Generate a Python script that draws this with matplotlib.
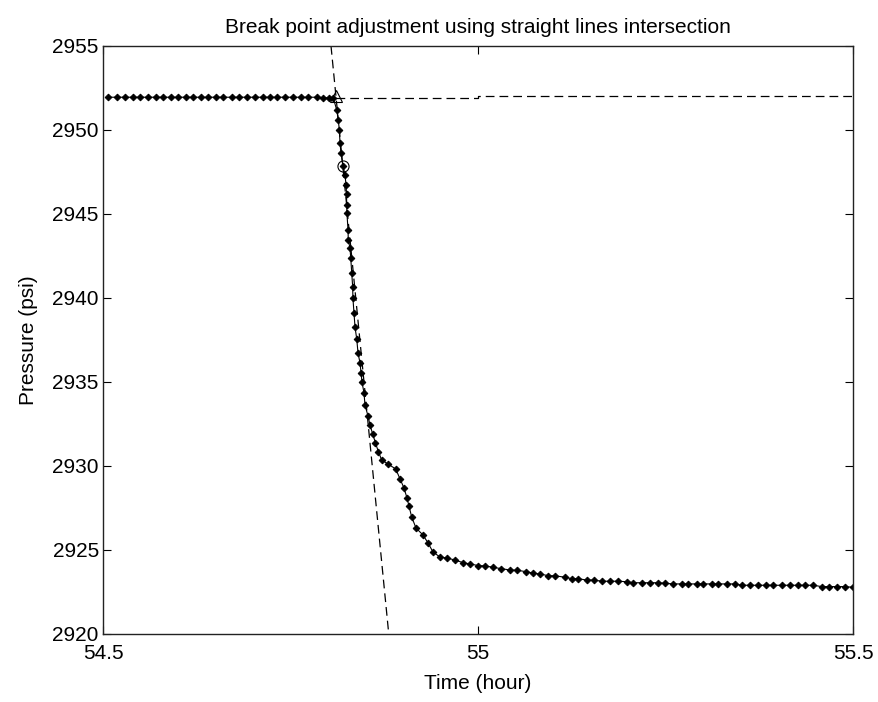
import matplotlib
matplotlib.use('Agg')
import matplotlib.pyplot as plt

# pressure record (time in hours, pressure in psi)
time_h = [
    54.5071, 54.5183, 54.5293, 54.5396, 54.5493, 54.5604, 54.5707, 54.5804,
    54.5903, 54.6004, 54.6107, 54.6204, 54.6303, 54.6404, 54.6507, 54.6604,
    54.6716, 54.6817, 54.6916, 54.7027, 54.7129, 54.7227, 54.7324, 54.7427,
    54.7537, 54.7636, 54.7737, 54.7849, 54.7937, 54.8017, 54.8071,
    54.8116, 54.8137, 54.8151, 54.8160, 54.8173, 54.8200, 54.8227, 54.8240,
    54.8247, 54.8249, 54.8252, 54.8267, 54.8270, 54.8293, 54.8303, 54.8316,
    54.8329, 54.8332, 54.8347, 54.8360, 54.8383, 54.8400, 54.8427, 54.8440,
    54.8453, 54.8480, 54.8493, 54.8533, 54.8560, 54.8596, 54.8633, 54.8673,
    54.8716, 54.8800, 54.8903, 54.8960, 54.9013, 54.9053, 54.9080, 54.9116,
    54.9173, 54.9267, 54.9333, 54.9400, 54.9493, 54.9587, 54.9693,
    54.9804, 54.9893, 55.0004, 55.0093, 55.0204, 55.0303, 55.0427, 55.0524,
    55.0640, 55.0729, 55.0827, 55.0937, 55.1027, 55.1160, 55.1249, 55.1337,
    55.1449, 55.1547, 55.1649, 55.1760, 55.1871, 55.1983, 55.2071, 55.2183,
    55.2293, 55.2404, 55.2493, 55.2604, 55.2716, 55.2804, 55.2916, 55.3004,
    55.3116, 55.3204, 55.3316, 55.3427, 55.3516, 55.3627, 55.3737, 55.3840,
    55.3937, 55.4049, 55.4160, 55.4271, 55.4360, 55.4471, 55.4583, 55.4684,
    55.4783, 55.4893, 55.5000,
]
pressure_psi = [
    2951.95, 2951.95, 2951.95, 2951.95, 2951.95, 2951.95, 2951.95, 2951.95,
    2951.95, 2951.95, 2951.95, 2951.95, 2951.95, 2951.95, 2951.95, 2951.95,
    2951.95, 2951.95, 2951.95, 2951.95, 2951.95, 2951.95, 2951.95, 2951.95,
    2951.95, 2951.95, 2951.95, 2951.95, 2951.93, 2951.90, 2951.90,
    2951.19, 2950.60, 2950.00, 2949.23, 2948.63, 2947.86, 2947.32, 2946.73,
    2946.19, 2945.54, 2945.06, 2944.05, 2943.45, 2942.98, 2942.38, 2941.49,
    2940.65, 2940.00, 2939.11, 2938.27, 2937.56, 2936.73, 2936.13, 2935.54,
    2935.00, 2934.35, 2933.63, 2932.98, 2932.44, 2931.90, 2931.37, 2930.83,
    2930.36, 2930.12, 2929.82, 2929.23, 2928.69, 2928.10, 2927.62, 2926.96,
    2926.31, 2925.89, 2925.42, 2924.88, 2924.58, 2924.52, 2924.40,
    2924.24, 2924.17, 2924.07, 2924.05, 2923.97, 2923.89, 2923.81, 2923.79,
    2923.71, 2923.63, 2923.57, 2923.47, 2923.46, 2923.38, 2923.29, 2923.29,
    2923.21, 2923.21, 2923.14, 2923.14, 2923.14, 2923.11, 2923.05, 2923.05,
    2923.05, 2923.05, 2923.02, 2922.98, 2922.98, 2922.98, 2922.98, 2922.98,
    2922.98, 2922.98, 2922.98, 2922.98, 2922.90, 2922.90, 2922.90, 2922.90,
    2922.90, 2922.90, 2922.90, 2922.90, 2922.90, 2922.90, 2922.82, 2922.82,
    2922.82, 2922.82, 2922.78,
]

# fitted straight lines
drop_line_t = [54.8040, 54.8810]
drop_line_p = [2955.0, 2920.0]
flat_line_t = [54.8106, 55.0, 55.0, 55.5]
flat_line_p = [2951.93, 2951.93, 2952.03, 2952.03]

# intersection (triangle) and picked break point (circle)
break_adj_t, break_adj_p = 54.8106, 2952.0
break_pick_t, break_pick_p = 54.8195, 2947.85

xticks = [54.5, 55, 55.5]
xtick_labels = ['54.5', '55', '55.5']
yticks = [2920, 2925, 2930, 2935, 2940, 2945, 2950, 2955]

plt.rcParams['font.family'] = ['Liberation Sans', 'DejaVu Sans']
font_size = 15

fig = plt.figure(figsize=(8.79, 7.02), dpi=100)
ax = fig.add_axes([0.1172, 0.0969, 0.8532, 0.8376])

ax.plot(time_h, pressure_psi, '-', color='black', lw=0.8,
        marker='D', markersize=3.4, markerfacecolor='black',
        markeredgecolor='black', markeredgewidth=0.7)
ax.plot(drop_line_t, drop_line_p, '--', color='black', lw=0.9, dashes=(7, 4))
ax.plot(flat_line_t, flat_line_p, '--', color='black', lw=0.9, dashes=(7, 4))
ax.plot(break_adj_t, break_adj_p, '^', markersize=8, markerfacecolor='none',
        markeredgecolor='black', markeredgewidth=0.8)
ax.plot(break_pick_t, break_pick_p, 'o', markersize=8, markerfacecolor='none',
        markeredgecolor='black', markeredgewidth=0.8)

ax.set_xlim(54.5, 55.5)
ax.set_ylim(2920, 2955)
ax.set_xticks(xticks)
ax.set_xticklabels(xtick_labels)
ax.set_yticks(yticks)
ax.tick_params(direction='in', length=6, width=0.8, top=True, right=True,
               labelsize=font_size)
ax.tick_params(axis='x', pad=7)
ax.tick_params(axis='y', pad=3)
for s in ax.spines.values():
    s.set_linewidth(1.0)
    s.set_color('#222222')

ax.set_title('Break point adjustment using straight lines intersection',
             fontsize=font_size, pad=9)
ax.set_xlabel('Time (hour)', fontsize=font_size, labelpad=8)
ax.set_ylabel('Pressure (psi)', fontsize=font_size, labelpad=10)

fig.savefig('out.png', dpi=100)
